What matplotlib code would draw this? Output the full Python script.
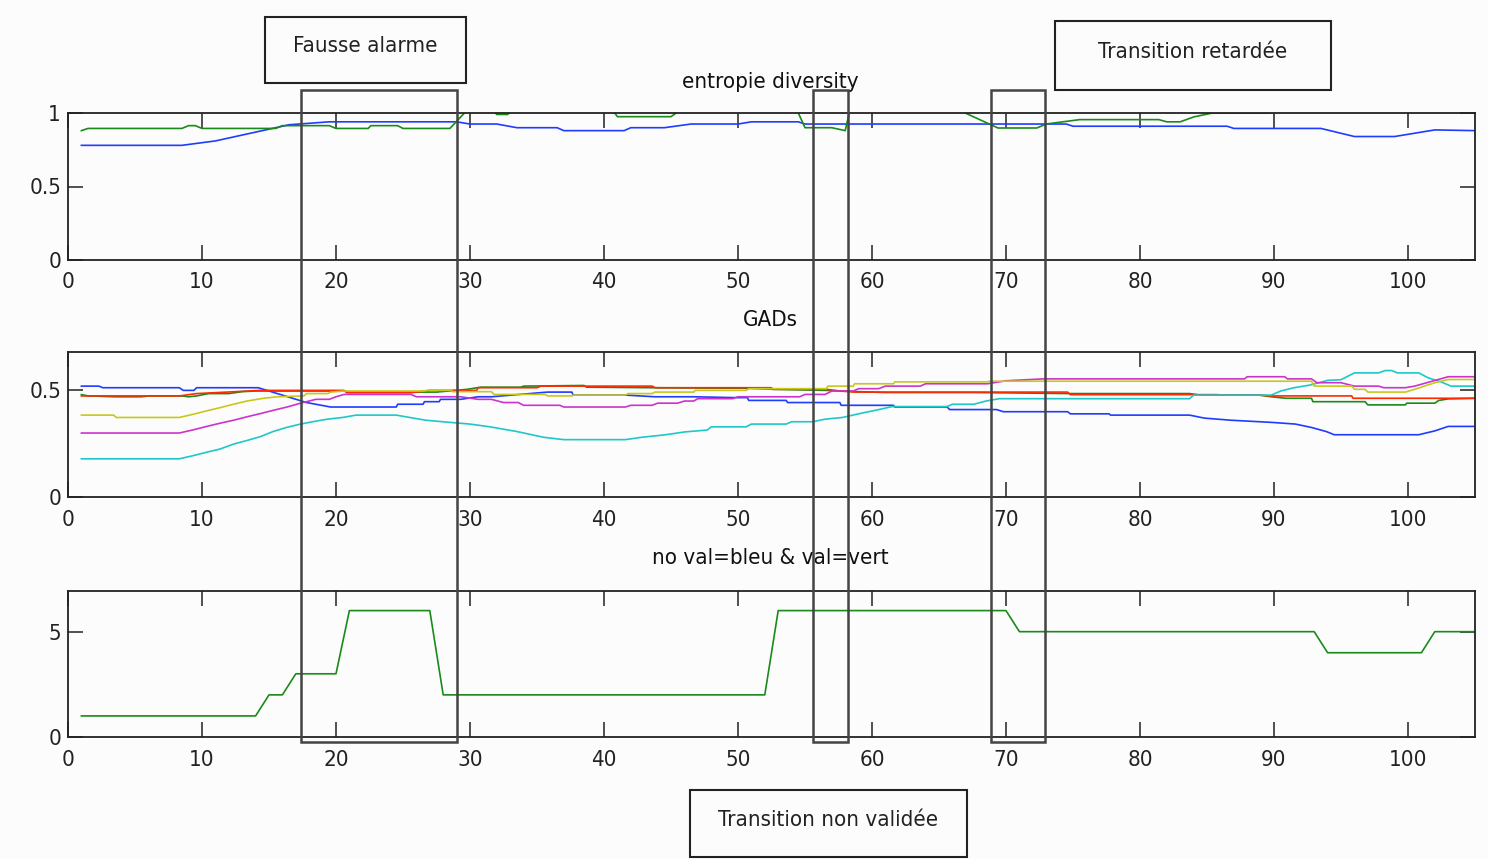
import matplotlib
matplotlib.use("Agg")
import matplotlib.pyplot as plt
from matplotlib.patches import Rectangle

# ---------------- data ----------------
x_ticks = [0, 10, 20, 30, 40, 50, 60, 70, 80, 90, 100]

# Panel 1: entropie diversity
ent_blue_x = [1, 8.5, 11, 14.5, 16.5, 19.5, 29, 30, 32, 33.5, 36.5, 37, 41.5, 42, 44.5, 46.5, 50,
              51, 54.5, 55, 74.5, 75, 86.5, 87, 93.5, 96, 99, 101, 102, 105]
ent_blue_y = [0.78, 0.78, 0.81, 0.88, 0.92, 0.94, 0.94, 0.925, 0.925, 0.90, 0.90, 0.88, 0.88, 0.90,
              0.90, 0.925, 0.925, 0.94, 0.94, 0.925, 0.925, 0.91, 0.91, 0.895, 0.895, 0.84, 0.84,
              0.87, 0.885, 0.88]
ent_green_x = [1, 1.5, 8.5, 9, 9.5, 10, 15.5, 16, 19.5, 20, 22.4, 22.6, 24.6, 25, 28.5, 30, 31.5, 32,
               32.8, 33.5, 40.5, 41, 45, 46, 54.3, 55, 57, 58, 58.4, 66, 69.4, 72.3, 73, 75.5, 81.4,
               82, 83, 84, 85.4, 89.7, 90.5, 105]
ent_green_y = [0.88, 0.895, 0.895, 0.914, 0.914, 0.895, 0.895, 0.914, 0.914, 0.895, 0.895, 0.914,
               0.914, 0.895, 0.895, 1.04, 1.04, 0.99, 0.99, 1.04, 1.04, 0.975, 0.975, 1.04, 1.04, 0.90,
               0.90, 0.88, 1.04, 1.04, 0.898, 0.898, 0.925, 0.955, 0.955, 0.94, 0.94, 0.973, 1.0, 1.0,
               1.04, 1.04]

# Panel 2: GADs (blue, green, red, cyan, magenta, yellow)
gad_blue_x = [1, 2.3, 2.6, 8.3, 8.6, 9.4, 9.6, 14.2, 17.8, 19.6, 24.5, 24.6, 26.5, 26.6, 27.7, 27.8,
              29.3, 30.6, 31.6, 35.8, 37.6, 37.7, 41.6, 43.8, 46.7, 49.8, 50.7, 50.8, 53.6, 53.7, 57.6,
              57.7, 61.6, 61.7, 65.6, 65.8, 69.3, 69.8, 74.6, 74.8, 77.7, 77.8, 83.7, 84.8, 86.8,
              89.8, 91.6, 92.8, 93.9, 94.5, 100.8, 102, 103, 105]
gad_blue_y = [0.52, 0.52, 0.5125, 0.5125, 0.50, 0.50, 0.5125, 0.5125, 0.443, 0.422, 0.422, 0.435,
              0.435, 0.447, 0.447, 0.458, 0.458, 0.47, 0.47, 0.492, 0.492, 0.478, 0.478, 0.47, 0.47,
              0.466, 0.466, 0.453, 0.453, 0.443, 0.443, 0.43, 0.43, 0.422, 0.422, 0.41, 0.41, 0.40,
              0.40, 0.39, 0.39, 0.384, 0.384, 0.37, 0.36, 0.35, 0.342, 0.326, 0.307, 0.292, 0.292,
              0.31, 0.331, 0.331]
gad_green_x = [1, 1.5, 3.5, 5.5, 6, 8.5, 9, 9.6, 10.5, 12, 13, 14, 20.6, 21, 27.5, 29.8, 30.8, 33.8,
               34, 38.5, 38.7, 44.5, 50.8, 52.6, 56.6, 58.6, 61, 67.6, 74.8, 83.7, 84.5, 88.9, 89.8,
               90.9, 92.8, 92.9, 96.8, 97, 99.8, 99.9, 102, 102.3, 103, 105]
gad_green_y = [0.48, 0.474, 0.47, 0.47, 0.474, 0.474, 0.47, 0.474, 0.485, 0.485, 0.494, 0.497, 0.497,
               0.492, 0.492, 0.505, 0.515, 0.515, 0.52, 0.523, 0.515, 0.512, 0.51, 0.505, 0.50, 0.495,
               0.49, 0.49, 0.485, 0.485, 0.478, 0.478, 0.47, 0.463, 0.463, 0.447, 0.447, 0.432, 0.432,
               0.44, 0.44, 0.453, 0.46, 0.463]
gad_red_x = [1, 8.3, 9.6, 12.5, 14.3, 20.6, 20.8, 25.6, 27, 30.5, 30.6, 35, 35.3, 43.6, 43.8, 52.5,
             52.6, 56.6, 57.6, 58.7, 74.6, 74.8, 85.8, 86, 88.8, 89.8, 95.8, 95.9, 105]
gad_red_y = [0.474, 0.474, 0.485, 0.494, 0.50, 0.50, 0.489, 0.489, 0.50, 0.50, 0.5125, 0.5125, 0.52,
             0.52, 0.5125, 0.5125, 0.505, 0.505, 0.497, 0.492, 0.492, 0.48, 0.48, 0.478, 0.478,
             0.474, 0.474, 0.463, 0.463]
gad_cyan_x = [1, 8.3, 9.35, 10.35, 11.35, 12.35, 13.3, 14.35, 15.3, 16.3, 17.35, 18.35, 19.35, 20.5,
              21.5, 24.5, 25.5, 26.7, 28.5, 30, 31.5, 33.5, 35.5, 37, 41.6, 42.8, 44.6, 46, 47.7, 48,
              50.6, 51, 53.6, 54, 55.6, 56.5, 57.8, 59, 60.5, 61.5, 65.6, 66, 67.6, 68.5, 69.5, 83.7,
              84, 89.8, 90.5, 91.5, 92.7, 94, 95, 96, 97.8, 98.3, 98.8, 99.2, 100.8, 101.5, 102.5,
              103.2, 105]
gad_cyan_y = [0.179, 0.179, 0.194, 0.21, 0.225, 0.248, 0.264, 0.283, 0.307, 0.326, 0.342, 0.354,
              0.365, 0.373, 0.384, 0.384, 0.373, 0.36, 0.35, 0.342, 0.329, 0.307, 0.28, 0.269, 0.269,
              0.28, 0.292, 0.305, 0.314, 0.329, 0.329, 0.342, 0.342, 0.353, 0.353, 0.365, 0.373, 0.39,
              0.41, 0.424, 0.424, 0.435, 0.435, 0.45, 0.461, 0.461, 0.478, 0.478, 0.497, 0.5125,
              0.525, 0.547, 0.55, 0.582, 0.582, 0.593, 0.593, 0.582, 0.582, 0.559, 0.539, 0.52, 0.52]
gad_magenta_x = [1, 8.3, 9.35, 10.35, 11.35, 12.35, 13.35, 14.35, 15.35, 16.35, 17.35, 18.5, 19.5,
                 20, 20.6, 25.6, 26, 29.3, 30.6, 31.6, 32.5, 33.6, 34, 36.7, 37, 41.6, 42, 43.6, 44,
                 45.5, 46, 46.7, 47, 49.6, 50, 54.6, 55, 56.5, 57, 58.6, 59, 60.5, 61, 63.6, 64,
                 68.6, 70, 72.8, 87.8, 88, 90.8, 91, 92.8, 93.2, 95, 96, 97.8, 98.2, 99.8, 100.5,
                 101.8, 103, 105]
gad_magenta_y = [0.30, 0.30, 0.315, 0.331, 0.346, 0.36, 0.376, 0.391, 0.407, 0.422, 0.44, 0.458,
                 0.458, 0.47, 0.481, 0.481, 0.47, 0.47, 0.458, 0.458, 0.443, 0.443, 0.43, 0.43, 0.422,
                 0.422, 0.43, 0.43, 0.44, 0.44, 0.45, 0.45, 0.461, 0.461, 0.47, 0.47, 0.481, 0.481,
                 0.497, 0.497, 0.508, 0.508, 0.52, 0.52, 0.531, 0.531, 0.545, 0.554, 0.554, 0.564,
                 0.564, 0.554, 0.554, 0.536, 0.536, 0.52, 0.52, 0.5125, 0.5125, 0.52, 0.543, 0.564,
                 0.564]
gad_yellow_x = [1, 3.4, 3.6, 8.3, 9.35, 10.35, 11.35, 12.35, 13.35, 14.6, 15.6, 17.6, 17.8, 19.4,
                19.6, 20.6, 26.6, 26.8, 28.6, 28.7, 31.6, 31.8, 35.6, 35.8, 37.6, 37.7, 41.6, 41.8,
                43.6, 43.8, 46.7, 46.8, 50.6, 50.8, 56.6, 56.7, 58.6, 58.7, 61.6, 61.7, 68.6, 68.8,
                92.8, 93, 95.8, 96, 96.8, 97, 99.8, 100.5, 102, 103, 105]
gad_yellow_y = [0.384, 0.384, 0.373, 0.373, 0.388, 0.404, 0.419, 0.435, 0.45, 0.463, 0.47, 0.474,
                0.485, 0.485, 0.492, 0.497, 0.497, 0.50, 0.50, 0.494, 0.494, 0.481, 0.481, 0.474,
                0.474, 0.478, 0.478, 0.485, 0.485, 0.492, 0.492, 0.50, 0.50, 0.508, 0.508, 0.52,
                0.52, 0.531, 0.531, 0.54, 0.54, 0.543, 0.543, 0.52, 0.52, 0.505, 0.505, 0.492,
                0.492, 0.505, 0.536, 0.551, 0.551]

# Panel 3: no val=bleu & val=vert (samples 1..105)
val_x = list(range(1, 106))
val_y = ([1] * 14 + [2] * 2 + [3] * 4 + [6] * 7 + [2] * 25 + [6] * 18 + [5] * 23 + [4] * 8 + [5] * 4)

titles = ["entropie diversity", "GADs", "no val=bleu & val=vert"]
annotations = ["Fausse alarme", "Transition retardée", "Transition non validée"]

# ---------------- styling ----------------
W, H = 1488, 859
fig = plt.figure(figsize=(W / 100, H / 100), dpi=100)
fig.patch.set_facecolor("#fcfcfc")

FONT = dict(family="DejaVu Sans", fontstretch="condensed")
C_B, C_G, C_R = "#1f3cff", "#1a8a1a", "#ff2a00"
C_C, C_M, C_Y = "#1fc8c8", "#cc33cc", "#c8c81a"
LW = 1.2


def fx(px):
    return px / W


def fy(py):
    return 1 - py / H


def make_ax(top_px, bot_px):
    ax = fig.add_axes([fx(68), fy(bot_px), fx(1475) - fx(68), fy(top_px) - fy(bot_px)])
    ax.set_facecolor("#fcfcfc")
    ax.set_xlim(0, 105)
    ax.set_xticks(x_ticks)
    ax.tick_params(direction="in", top=True, right=True, length=11, width=1.1,
                   colors="#222222", labelsize=16, pad=9)
    ax.tick_params(axis="y", pad=5)
    for s in ax.spines.values():
        s.set_linewidth(1.3)
        s.set_color("#222222")
    for lab in ax.get_xticklabels() + ax.get_yticklabels():
        lab.set_fontstretch("condensed")
    return ax


ax1 = make_ax(113, 260)
ax1.plot(ent_blue_x, ent_blue_y, color=C_B, lw=LW)
ax1.plot(ent_green_x, ent_green_y, color=C_G, lw=LW)
ax1.set_ylim(0, 1)
ax1.set_yticks([0, 0.5, 1])
ax1.set_yticklabels(["0", "0.5", "1"])

ax2 = make_ax(352, 497)
for xs, ys, c in [(gad_blue_x, gad_blue_y, C_B), (gad_green_x, gad_green_y, C_G),
                  (gad_red_x, gad_red_y, C_R), (gad_cyan_x, gad_cyan_y, C_C),
                  (gad_magenta_x, gad_magenta_y, C_M), (gad_yellow_x, gad_yellow_y, C_Y)]:
    ax2.plot(xs, ys, color=c, lw=LW)
ax2.set_ylim(0, 0.68)
ax2.set_yticks([0, 0.5])
ax2.set_yticklabels(["0", "0.5"])

ax3 = make_ax(591, 737)
ax3.plot(val_x, val_y, color=C_G, lw=LW)
ax3.set_ylim(0, 6.93)
ax3.set_yticks([0, 5])

for ax in (ax1, ax2, ax3):
    for lab in ax.get_xticklabels() + ax.get_yticklabels():
        lab.set_fontstretch("condensed")

# titles
for t, ypx in zip(titles, [82, 320, 558]):
    fig.text(fx(770), fy(ypx), t, ha="center", va="center", fontsize=16, color="#111111", **FONT)

# tall annotation boxes
for x0, x1 in [(301, 457), (813, 848), (991, 1045)]:
    fig.add_artist(Rectangle((fx(x0), fy(742)), fx(x1) - fx(x0), fy(90) - fy(742),
                             transform=fig.transFigure, fill=False, edgecolor="#444444",
                             lw=1.8, zorder=10))

# label boxes
for (x0, y0, x1, y1), t in zip([(265, 17, 466, 83), (1055, 21, 1331, 90), (690, 790, 967, 857)],
                               annotations):
    fig.add_artist(Rectangle((fx(x0), fy(y1)), fx(x1) - fx(x0), fy(y0) - fy(y1),
                             transform=fig.transFigure, fill=False, edgecolor="#222222",
                             lw=1.5, zorder=10))
    fig.text(fx((x0 + x1) / 2), fy((y0 + y1) / 2 - 4), t, ha="center", va="center",
             fontsize=16, color="#222222", **FONT)

fig.savefig("out.png", dpi=100, facecolor=fig.get_facecolor())
